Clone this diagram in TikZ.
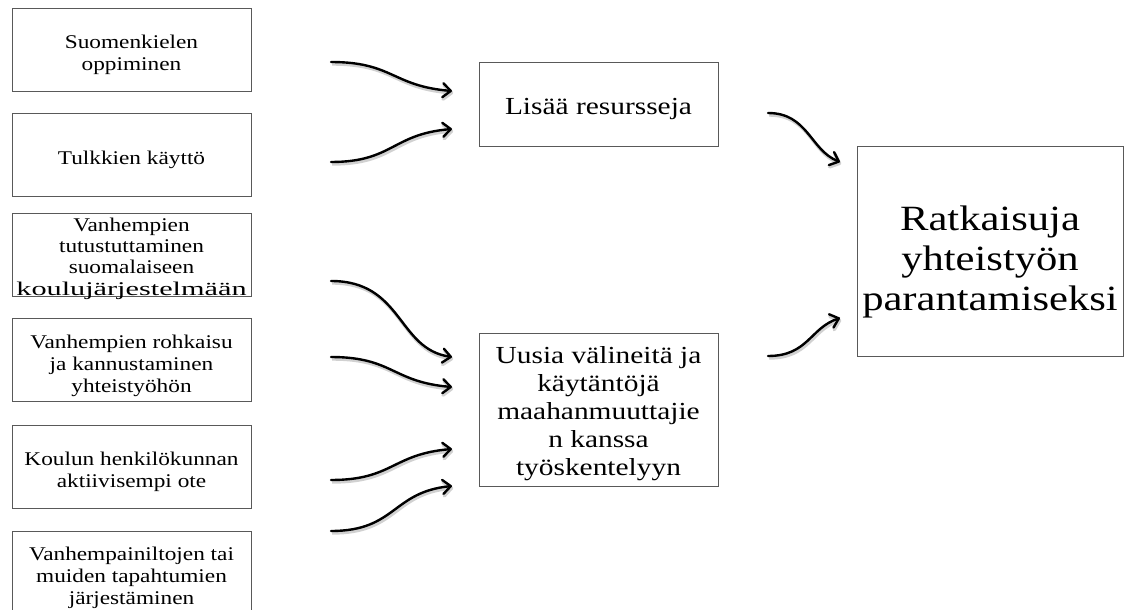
\documentclass[tikz,border=0pt]{standalone}
\usepackage{fontspec}
\usepackage{graphicx}
\setmainfont[FakeStretch=1.2]{Liberation Serif}
\usetikzlibrary{arrows.meta}
\tikzset{
  box/.style={draw=black!65, line width=0.9pt, inner sep=0pt},
  lbox/.style={box, minimum width=239pt, minimum height=83pt},
  mbox/.style={box, minimum width=239pt},
  rbox/.style={box, minimum width=266pt, minimum height=210pt},
  txt/.style={inner sep=0pt, align=center, text=black},
  ltxt/.style={txt, font=\fontsize{19.4}{22}\selectfont},
  mtxt/.style={txt, font=\fontsize{24.5}{28}\selectfont},
  rtxt/.style={txt, font=\fontsize{35.5}{40}\selectfont},
  conn/.style={line width=2.4pt, line cap=round, -{Straight Barb[length=8pt,width=14pt,line cap=round,line join=round]},
    preaction={draw=black!18, line width=3.4pt, transform canvas={shift={(1.2pt,-2pt)}}}}
}
\begin{document}
\begin{tikzpicture}[x=1pt,y=-1pt]
\useasboundingbox (0,0) rectangle (1125,610);
% left column
\node[lbox] (l1) at (131.5,49.5) {};
\node[lbox] (l2) at (131.5,155) {};
\node[lbox] (l3) at (131.5,254.5) {};
\node[lbox] (l4) at (131.5,360) {};
\node[lbox] (l5) at (131.5,467) {};
\node[lbox, minimum height=84pt] (l6) at (131.5,573) {};
\node[ltxt, yshift=-5pt] (l1t) at (l1.center) {Suomenkielen\\oppiminen};
\node[ltxt, yshift=-5pt] (l2t) at (l2.center) {Tulkkien käyttö};
\node[ltxt, yshift=-4pt, font=\fontsize{19.4}{21.3}\selectfont] (l3t) at (l3.center) {Vanhempien\\tutustuttaminen\\suomalaiseen\\\scalebox{1.3}[1]{koulujärjestelmään}};
\node[ltxt, yshift=-6pt] (l4t) at (l4.center) {Vanhempien rohkaisu\\ja kannustaminen\\yhteistyöhön};
\node[ltxt, yshift=-5pt] (l5t) at (l5.center) {Koulun henkilökunnan\\aktiivisempi ote};
\node[ltxt, yshift=-5pt] (l6t) at (l6.center) {Vanhempainiltojen tai\\muiden tapahtumien\\järjestäminen};
% middle column
\node[mbox, minimum height=84pt] (m1) at (598.5,104) {};
\node[mbox, minimum height=153pt] (m2) at (598.5,409.5) {};
\node[mtxt, yshift=-5pt] (m1t) at (m1.center) {Lisää resursseja};
\node[mtxt, yshift=-4pt] (m2t) at (m2.center) {Uusia välineitä ja\\käytäntöjä\\maahanmuuttajie\\n kanssa\\työskentelyyn};
% right
\node[rbox] (r) at (990,251) {};
\node[rtxt, yshift=-11pt] (rt) at (r.center) {Ratkaisuja\\yhteistyön\\parantamiseksi};
% connector end points
\coordinate (s1) at (331,62);  \coordinate (e1) at (452,91);
\coordinate (s2) at (331,162); \coordinate (e2) at (452,129);
\coordinate (s3) at (331,281); \coordinate (e3) at (452,357);
\coordinate (s4) at (331,357); \coordinate (e4) at (452,387);
\coordinate (s5) at (331,480); \coordinate (e5) at (452,449);
\coordinate (s6) at (331,531); \coordinate (e6) at (452,486);
\coordinate (s7) at (768,113); \coordinate (e7) at (840,162);
\coordinate (s8) at (768,356); \coordinate (e8) at (840,318);
% connectors
\draw[conn] (s1) .. controls +(62,0) and +(-60,-5) .. (e1);
\draw[conn] (s2) .. controls +(62,0) and +(-60,5) .. (e2);
\draw[conn] (s3) .. controls +(72,0) and +(-55,-8) .. (e3);
\draw[conn] (s4) .. controls +(62,0) and +(-60,-5) .. (e4);
\draw[conn] (s5) .. controls +(62,0) and +(-60,5) .. (e5);
\draw[conn] (s6) .. controls +(65,0) and +(-60,6) .. (e6);
\draw[conn] (s7) .. controls +(40,0) and +(-30,-12) .. (e7);
\draw[conn] (s8) .. controls +(40,0) and +(-30,10) .. (e8);
\end{tikzpicture}
\end{document}
